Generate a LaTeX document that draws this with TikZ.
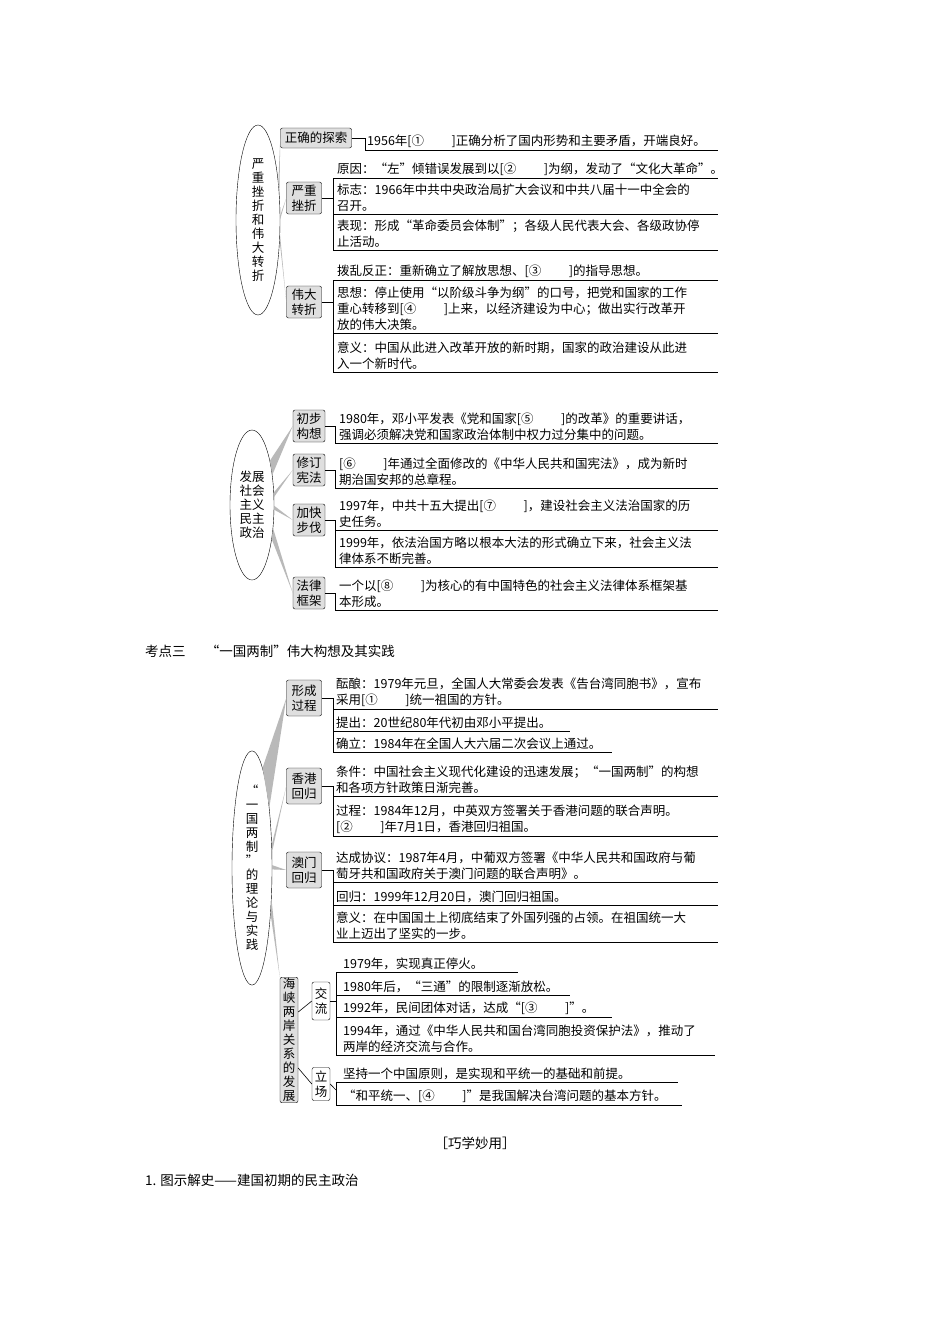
\documentclass[tikz,border=0pt]{standalone}
\usepackage{fontspec}
\newfontfamily\cjk{Noto Sans CJK SC}
\usetikzlibrary{shapes.geometric}
\begin{document}
\begin{tikzpicture}[x=1pt,y=-1pt,
  txt/.style={anchor=south west,inner sep=0pt,align=left,font=\cjk\fontsize{12.5}{16}\selectfont},
  cat/.style={draw,rounded corners=2pt,fill=gray!25,inner sep=1pt,align=center,font=\cjk\fontsize{12.5}{15}\selectfont},
  catw/.style={cat,fill=white},
  ell/.style={draw,ellipse,inner sep=0pt,align=center,font=\cjk\fontsize{12.5}{14}\selectfont},
  wedge/.style={fill=gray!55},
  ln/.style={line width=0.6pt}]
\useasboundingbox (0,0) rectangle (950,1344);
\fill[white] (0,0) rectangle (950,1344);
% ===== group 1
\node[ell,minimum width=44,minimum height=190] (e1) at (258,220) {严\\重\\挫\\折\\和\\伟\\大\\转\\折};
\node[cat,minimum width=71,minimum height=20] (b11) at (316,138) {正确的探索};
\node[cat,minimum width=35,minimum height=32] (b12) at (304,198) {严重\\挫折};
\node[cat,minimum width=35,minimum height=32] (b13) at (304,302) {伟大\\转折};
\fill[wedge] (e1.62) -- (e1.50) -- (b11.west) -- cycle;
\fill[wedge] (e1.12) -- (e1.2) -- (b12.west) -- cycle;
\fill[wedge] (e1.-32) -- (e1.-44) -- (b13.west) -- cycle;
\draw[ln] (b11.east) -- (365,138) -- (365,150) -- (718,150);
\node[txt] at (367,148) {1956年[①\hspace{2.2em}]正确分析了国内形势和主要矛盾，开端良好。};
\draw[ln] (b12.east) -- (333,198);
\draw[ln] (333,178) -- (333,250);
\foreach \y in {178,214,250} \draw[ln] (333,\y) -- (718,\y);
\node[txt] at (337,176) {原因：“左”倾错误发展到以[②\hspace{2.2em}]为纲，发动了“文化大革命”。};
\node[txt] at (337,212) {标志：1966年中共中央政治局扩大会议和中共八届十一中全会的\\召开。};
\node[txt] at (337,248) {表现：形成“革命委员会体制”；各级人民代表大会、各级政协停\\止活动。};
\draw[ln] (b13.east) -- (333,302);
\draw[ln] (333,280) -- (333,372);
\foreach \y in {280,333,372} \draw[ln] (333,\y) -- (718,\y);
\node[txt] at (337,278) {拨乱反正：重新确立了解放思想、[③\hspace{2.2em}]的指导思想。};
\node[txt] at (337,331) {思想：停止使用“以阶级斗争为纲”的口号，把党和国家的工作\\重心转移到[④\hspace{2.2em}]上来，以经济建设为中心；做出实行改革开\\放的伟大决策。};
\node[txt] at (337,370) {意义：中国从此进入改革开放的新时期，国家的政治建设从此进\\入一个新时代。};
% ===== group 2
\node[ell,minimum width=44,minimum height=150] (e2) at (252,505) {发展\\社会\\主义\\民主\\政治};
\node[cat,minimum width=32,minimum height=32] (b21) at (309,426) {初步\\构想};
\node[cat,minimum width=32,minimum height=32] (b22) at (309,470) {修订\\宪法};
\node[cat,minimum width=32,minimum height=32] (b23) at (309,520) {加快\\步伐};
\node[cat,minimum width=32,minimum height=32] (b24) at (309,593) {法律\\框架};
\fill[wedge] (e2.68) -- (e2.56) -- (b21.west) -- cycle;
\fill[wedge] (e2.30) -- (e2.20) -- (b22.west) -- cycle;
\fill[wedge] (e2.-2) -- (e2.-12) -- (b23.west) -- cycle;
\fill[wedge] (e2.-48) -- (e2.-60) -- (b24.west) -- cycle;
\draw[ln] (b21.east) -- (335,426) -- (335,443) -- (718,443);
\node[txt] at (339,441) {1980年，邓小平发表《党和国家[⑤\hspace{2.2em}]的改革》的重要讲话，\\强调必须解决党和国家政治体制中权力过分集中的问题。};
\draw[ln] (b22.east) -- (335,470) -- (335,488) -- (718,488);
\node[txt] at (339,486) {[⑥\hspace{2.2em}]年通过全面修改的《中华人民共和国宪法》，成为新时\\期治国安邦的总章程。};
\draw[ln] (b23.east) -- (335,520);
\draw[ln] (335,520) -- (335,567);
\foreach \y in {530,567} \draw[ln] (335,\y) -- (718,\y);
\node[txt] at (339,528) {1997年，中共十五大提出[⑦\hspace{2.2em}]，建设社会主义法治国家的历\\史任务。};
\node[txt] at (339,565) {1999年，依法治国方略以根本大法的形式确立下来，社会主义法\\律体系不断完善。};
\draw[ln] (b24.east) -- (335,593) -- (335,610) -- (718,610);
\node[txt] at (339,608) {一个以[⑧\hspace{2.2em}]为核心的有中国特色的社会主义法律体系框架基\\本形成。};
% ===== title
\node[txt,anchor=west,font=\cjk\fontsize{13.5}{16}\selectfont] (t1) at (145,651) {考点三\hspace{1.5em}“一国两制”伟大构想及其实践};
% ===== group 3
\node[ell,minimum width=40,minimum height=212] (e3) at (252,868) {“\\一\\国\\两\\制\\”\\的\\理\\论\\与\\实\\践};
\node[cat,minimum width=35,minimum height=36] (b31) at (304,698) {形成\\过程};
\node[cat,minimum width=35,minimum height=36] (b32) at (304,786) {香港\\回归};
\node[cat,minimum width=35,minimum height=36] (b33) at (304,870) {澳门\\回归};
\node[cat,minimum width=18,minimum height=125,font=\cjk\fontsize{12.5}{14}\selectfont] (b34) at (289,1040) {海\\峡\\两\\岸\\关\\系\\的\\发\\展};
\node[catw,minimum width=18,minimum height=38] (s1) at (321,1001) {交\\流};
\node[catw,minimum width=18,minimum height=33] (s2) at (321,1084) {立\\场};
\fill[wedge] (e3.84) -- (e3.74) -- (b31.west) -- cycle;
\fill[wedge] (e3.50) -- (e3.38) -- (b32.west) -- cycle;
\fill[wedge] (e3.8) -- (e3.-4) -- (b33.west) -- cycle;
\fill[wedge] (e3.-58) -- (e3.-68) -- (b34.north west) -- cycle;
\draw[ln] (b34.east |- 0,1012) -- (s1.west);
\draw[ln] (b34.east |- 0,1068) -- (s2.west);
\draw[ln] (b31.east) -- (333,698);
\draw[ln] (333,698) -- (333,752);
\draw[ln] (333,709) -- (718,709);
\draw[ln] (333,731) -- (570,731);
\draw[ln] (333,752) -- (612,752);
\node[txt] at (336,707) {酝酿：1979年元旦，全国人大常委会发表《告台湾同胞书》，宣布\\采用[①\hspace{2.2em}]统一祖国的方针。};
\node[txt] at (336,729) {提出：20世纪80年代初由邓小平提出。};
\node[txt] at (336,750) {确立：1984年在全国人大六届二次会议上通过。};
\draw[ln] (b32.east) -- (333,786);
\draw[ln] (333,786) -- (333,836);
\foreach \y in {796,836} \draw[ln] (333,\y) -- (718,\y);
\node[txt] at (336,794) {条件：中国社会主义现代化建设的迅速发展；“一国两制”的构想\\和各项方针政策日渐完善。};
\node[txt] at (336,834) {过程：1984年12月，中英双方签署关于香港问题的联合声明。\\{}[②\hspace{2.2em}]年7月1日，香港回归祖国。};
\draw[ln] (b33.east) -- (333,870);
\draw[ln] (333,870) -- (333,942);
\foreach \y in {882,905,942} \draw[ln] (333,\y) -- (718,\y);
\node[txt] at (336,880) {达成协议：1987年4月，中葡双方签署《中华人民共和国政府与葡\\萄牙共和国政府关于澳门问题的联合声明》。};
\node[txt] at (336,903) {回归：1999年12月20日，澳门回归祖国。};
\node[txt] at (336,940) {意义：在中国国土上彻底结束了外国列强的占领。在祖国统一大\\业上迈出了坚实的一步。};
\draw[ln] (s1.east) -- (336,1001);
\draw[ln] (336,972) -- (336,1055);
\draw[ln] (336,972) -- (518,972);
\draw[ln] (336,995) -- (570,995);
\draw[ln] (336,1017) -- (612,1017);
\draw[ln] (336,1055) -- (715,1055);
\node[txt] at (343,970) {1979年，实现真正停火。};
\node[txt] at (343,993) {1980年后，“三通”的限制逐渐放松。};
\node[txt] at (343,1015) {1992年，民间团体对话，达成“[③\hspace{2.2em}]”。};
\node[txt] at (343,1053) {1994年，通过《中华人民共和国台湾同胞投资保护法》，推动了\\两岸的经济交流与合作。};
\draw[ln] (s2.east) -- (336,1090);
\draw[ln] (336,1082) -- (336,1105);
\draw[ln] (336,1082) -- (678,1082);
\draw[ln] (336,1105) -- (682,1105);
\node[txt] at (343,1080) {坚持一个中国原则，是实现和平统一的基础和前提。};
\node[txt] at (343,1103) {“和平统一、[④\hspace{2.2em}]”是我国解决台湾问题的基本方针。};
% ===== footer
\node[anchor=center,inner sep=0pt,font=\cjk\fontsize{13.5}{16}\selectfont] (t2) at (475,1143) {［巧学妙用］};
\node[anchor=west,inner sep=0pt,font=\cjk\fontsize{13.5}{16}\selectfont] (t3) at (145,1180) {1. 图示解史——建国初期的民主政治};
\end{tikzpicture}
\end{document}
